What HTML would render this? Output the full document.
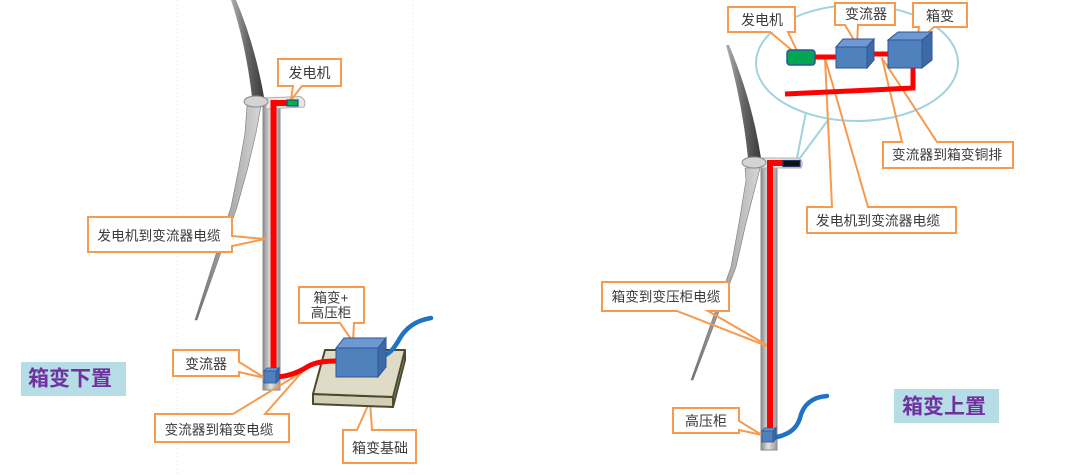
<!DOCTYPE html>
<html><head><meta charset="utf-8"><style>
html,body{margin:0;padding:0;background:#fff;}
svg{display:block;}
text{font-family:"Liberation Sans","Noto Sans CJK SC",sans-serif;fill:#3a3a3a;}
</style></head><body>
<svg width="1080" height="475" viewBox="0 0 1080 475" xmlns="http://www.w3.org/2000/svg">
<defs>
<linearGradient id="tw" x1="0" x2="1" y1="0" y2="0">
<stop offset="0" stop-color="#8c8c8c"/><stop offset="0.45" stop-color="#e2e2e2"/><stop offset="1" stop-color="#9a9a9a"/>
</linearGradient>
<linearGradient id="bu" x1="0" x2="1" y1="0" y2="0">
<stop offset="0" stop-color="#b0b0b0"/><stop offset="0.5" stop-color="#666"/><stop offset="1" stop-color="#3a3a3a"/>
</linearGradient>
<linearGradient id="bl" x1="0" x2="1" y1="0" y2="0">
<stop offset="0" stop-color="#707070"/><stop offset="0.5" stop-color="#a8a8a8"/><stop offset="1" stop-color="#d6d6d6"/>
</linearGradient>
</defs>

<!-- faint dotted guides -->
<line x1="177" y1="0" x2="177" y2="475" stroke="#e6e2f2" stroke-width="1" stroke-dasharray="1 3"/>
<line x1="413" y1="0" x2="413" y2="475" stroke="#e6e2f2" stroke-width="1" stroke-dasharray="1 3"/>

<!-- ===== LEFT TURBINE ===== -->
<path d="M231,0 Q246,45 252,97 L264,97 Q255,45 236,0 Z" fill="url(#bu)"/>
<path d="M247,106 L261,106 L256,133 L248,167 L237,207 L197,320 L195,320 L231,207 L239,167 L245,133 Z" fill="url(#bl)" stroke="#7a7a7a" stroke-width="0.6"/>
<rect x="263" y="104" width="17" height="286" fill="url(#tw)" stroke="#8a8a8a" stroke-width="1"/>
<path d="M266,98 L300,96.5 Q307,100 304,107 L266,109 Z" fill="#e8e8e8" stroke="#b0b0b0" stroke-width="1"/>
<ellipse cx="256" cy="101.5" rx="12" ry="5.5" fill="#d4d4d4" stroke="#8a8a8a" stroke-width="1"/>

<!-- ===== RIGHT TURBINE ===== -->
<ellipse cx="857" cy="63" rx="101" ry="58" fill="none" stroke="#9fd3df" stroke-width="2"/>
<line x1="806" y1="112" x2="797" y2="158" stroke="#9fd3df" stroke-width="2"/>
<line x1="828" y1="120" x2="800" y2="158" stroke="#9fd3df" stroke-width="2"/>
<path d="M726,45 Q742,100 748,158 L761,158 Q752,100 729,45 Z" fill="url(#bu)"/>
<path d="M745,168 L760,168 L757,180 L746,223 L736,267 L693,380 L691,380 L731,267 L739,223 L746,180 Z" fill="url(#bl)" stroke="#7a7a7a" stroke-width="0.6"/>
<rect x="761" y="165" width="16" height="285" fill="url(#tw)" stroke="#8a8a8a" stroke-width="1"/>
<path d="M757,158 L799,158 Q804,162 801,168 L757,168 Z" fill="#e8e8e8" stroke="#b0b0b0" stroke-width="1"/>
<ellipse cx="754" cy="162.5" rx="12" ry="5.5" fill="#d4d4d4" stroke="#8a8a8a" stroke-width="1"/>

<!-- ===== CALLOUTS ===== -->
<g fill="#fff">
<rect x="278" y="59" width="63" height="27"/>
<rect x="88" y="217" width="144" height="35"/>
<rect x="173" y="350" width="66" height="26"/>
<rect x="155" y="414" width="134" height="28"/>
<rect x="299" y="287" width="65" height="36"/>
<rect x="343" y="430" width="73" height="33"/>
<rect x="728" y="7" width="67" height="25"/>
<rect x="835" y="3" width="60" height="22"/>
<rect x="913" y="3" width="54" height="24"/>
<rect x="883" y="142" width="130" height="26"/>
<rect x="807" y="207" width="149" height="26"/>
<rect x="602" y="282" width="127" height="29"/>
<rect x="673" y="408" width="66" height="25"/>
</g>
<g fill="none" stroke="#f79a4e" stroke-width="2" stroke-linejoin="miter">
<path d="M278,59 H341 V86 H302 L291,100 L293,86 H278 Z"/>
<path d="M88,217 H232 V236 L265,239 L232,246 V252 H88 Z"/>
<path d="M173,350 H239 V362 L265,378 L239,372 V376 H173 Z"/>
<path d="M155,414 H233 L302,372 L265,414 H289 V442 H155 Z"/>
<path d="M299,287 H364 V323 H354 L353,342 L340,323 H299 Z"/>
<path d="M343,430 H357 L370,401 L372,430 H416 V463 H343 Z"/>
<path d="M728,7 H795 V32 H788 L800,57 L770,32 H728 Z"/>
<path d="M835,3 H895 V25 H858 L857,45 L845,25 H835 Z"/>
<path d="M913,3 H967 V27 H934 L917,43 L919,27 H913 Z"/>
<path d="M883,142 H902 L882,58 L937,142 H1013 V168 H883 Z"/>
<path d="M807,207 H832 L825,58 L868,207 H956 V233 H807 Z"/>
<path d="M602,282 H729 V311 H708 L772,348 L677,311 H602 Z"/>
<path d="M673,408 H739 V421 L762,435 L739,430 V433 H673 Z"/>
</g>

<!-- ===== LEFT ELEMENTS ===== -->
<path d="M289,103 H273.5 V372" fill="none" stroke="#ff0000" stroke-width="6"/>
<rect x="287" y="100" width="11" height="6" fill="#00b050" stroke="#1f4e79" stroke-width="1.2"/>
<!-- base slab -->
<polygon points="313,394 393,397 393,407 313,404" fill="#d4ceb4" stroke="#4a4a30" stroke-width="2" stroke-linejoin="round"/>
<polygon points="405,350 405,360 393,407 393,397" fill="#bfb89c" stroke="#4a4a30" stroke-width="2" stroke-linejoin="round"/>
<polygon points="325,350 405,350 393,397 313,394" fill="#e0dbc6" stroke="#4a4a30" stroke-width="2" stroke-linejoin="round"/>
<!-- cable converter->box -->
<path d="M277,377 C290,376 299,372 307,367 C315,362 325,361 338,361" fill="none" stroke="#ff0000" stroke-width="5"/>
<!-- blue cable -->
<path d="M379,357 C392,355 396,344 402,335 C410,324 420,320 431,318" fill="none" stroke="#1f72c4" stroke-width="4.5" stroke-linecap="round"/>
<!-- box cube -->
<polygon points="336,348 344,338 386,338 378,348" fill="#6e98cf" stroke="#2f5597" stroke-width="1"/>
<polygon points="378,348 386,338 386,367 378,377" fill="#3d6aa6" stroke="#2f5597" stroke-width="1"/>
<rect x="336" y="348" width="42" height="29" fill="#4f81bd" stroke="#2f5597" stroke-width="1"/>
<!-- converter cube -->
<polygon points="264,371 267,368 279,368 276,371" fill="#6e98cf" stroke="#2f5597" stroke-width="0.8"/>
<polygon points="276,371 279,368 279,380 276,383" fill="#3d6aa6" stroke="#2f5597" stroke-width="0.8"/>
<rect x="264" y="371" width="12" height="12" fill="#4f81bd" stroke="#2f5597" stroke-width="0.8"/>

<!-- ===== RIGHT ELEMENTS ===== -->
<path d="M784,163 H770 V432" fill="none" stroke="#ff0000" stroke-width="6"/>
<rect x="783" y="160.5" width="17" height="6" fill="#111" stroke="#1f3864" stroke-width="1.2"/>
<path d="M777,437 C790,434 797,428 800,418 C803,405 812,397 827,396" fill="none" stroke="#1f72c4" stroke-width="4.5" stroke-linecap="round"/>
<polygon points="762,431 765,428 776,428 773,431" fill="#6e98cf" stroke="#2f5597" stroke-width="0.8"/>
<polygon points="773,431 776,428 776,439 773,442" fill="#3d6aa6" stroke="#2f5597" stroke-width="0.8"/>
<rect x="762" y="431" width="11" height="11" fill="#4f81bd" stroke="#2f5597" stroke-width="0.8"/>

<!-- top inset -->
<line x1="814" y1="57" x2="837" y2="57" stroke="#ff0000" stroke-width="5"/>
<line x1="872" y1="54" x2="889" y2="54" stroke="#ff0000" stroke-width="5"/>
<path d="M913,67 L913,88 L785,94" fill="none" stroke="#ff0000" stroke-width="5"/>
<rect x="787" y="50" width="28" height="15" rx="3" fill="#00a651" stroke="#2f5597" stroke-width="1.5"/>
<polygon points="836,47 843,39 874,39 867,47" fill="#6e98cf" stroke="#2f5597" stroke-width="1"/>
<polygon points="867,47 874,39 874,60 867,68" fill="#3d6aa6" stroke="#2f5597" stroke-width="1"/>
<rect x="836" y="47" width="31" height="21" fill="#4f81bd" stroke="#2f5597" stroke-width="1"/>
<polygon points="888,40 898,32 932,32 922,40" fill="#6e98cf" stroke="#2f5597" stroke-width="1"/>
<polygon points="922,40 932,32 932,60 922,68" fill="#3d6aa6" stroke="#2f5597" stroke-width="1"/>
<rect x="888" y="40" width="34" height="28" fill="#4f81bd" stroke="#2f5597" stroke-width="1"/>

<!-- ===== TEXT ===== -->
<g font-size="14" text-anchor="middle" dominant-baseline="central">
<text x="309.5" y="73">发电机</text>
<text x="159" y="236" font-size="13.7">发电机到变流器电缆</text>
<text x="206" y="364">变流器</text>
<text x="219" y="430" font-size="13.6">变流器到箱变电缆</text>
<text x="331" y="298" font-size="13.5">箱变+</text>
<text x="331" y="313" font-size="13.5">高压柜</text>
<text x="380" y="448">箱变基础</text>
<text x="762" y="20">发电机</text>
<text x="866" y="14">变流器</text>
<text x="940" y="16">箱变</text>
<text x="947" y="155" font-size="13.8">变流器到箱变铜排</text>
<text x="878" y="221" font-size="13.8">发电机到变流器电缆</text>
<text x="666" y="297" font-size="13.6">箱变到变压柜电缆</text>
<text x="706" y="421">高压柜</text>
</g>

<!-- title tags -->
<rect x="21" y="362" width="105" height="34" fill="#b6dce6"/>
<text x="70" y="379" font-size="21" font-weight="bold" text-anchor="middle" dominant-baseline="central" style="fill:#7030a0">箱变下置</text>
<rect x="894" y="389" width="105" height="34" fill="#b6dce6"/>
<text x="944" y="407" font-size="21" font-weight="bold" text-anchor="middle" dominant-baseline="central" style="fill:#7030a0">箱变上置</text>
</svg>
</body></html>
